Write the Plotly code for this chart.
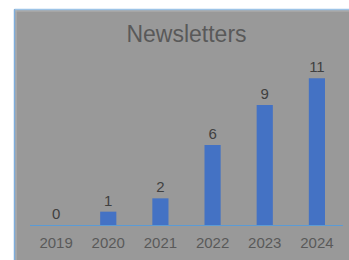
import plotly.graph_objects as go

years = ["2019", "2020", "2021", "2022", "2023", "2024"]
counts = [0, 1, 2, 6, 9, 11]
title_text = "Newsletters"

W, H = 349, 260
ML, MR, MT, MB = 30, 6, 65, 35
PW = W - ML - MR
PH = H - MT - MB

def px_x(p):
    return (p - ML) / PW

def px_y(p):
    return (H - MB - p) / PH

fig = go.Figure(go.Bar(
    x=years, y=counts,
    marker=dict(color="#4472C4", line=dict(width=0)),
    text=[str(c) for c in counts], textposition="outside",
    textfont=dict(family="Liberation Sans, Arial", size=15, color="#404040"),
    cliponaxis=False,
))

shapes = [
    dict(type="rect", xref="paper", yref="paper", x0=px_x(-5), x1=px_x(W + 5), y0=px_y(9), y1=px_y(-5),
         fillcolor="white", line=dict(width=0), layer="below"),
    dict(type="rect", xref="paper", yref="paper", x0=px_x(-5), x1=px_x(14), y0=px_y(H + 5), y1=px_y(-5),
         fillcolor="white", line=dict(width=0), layer="below"),
    dict(type="line", xref="paper", yref="paper", x0=px_x(15), x1=px_x(W + 5), y0=px_y(11), y1=px_y(11),
         line=dict(color="#b3b3b3", width=1), layer="below"),
    dict(type="line", xref="paper", yref="paper", x0=px_x(16), x1=px_x(16), y0=px_y(10), y1=px_y(H + 5),
         line=dict(color="#b3b3b3", width=1), layer="below"),
    dict(type="line", xref="paper", yref="paper", x0=px_x(14.5), x1=px_x(W + 5), y0=px_y(9.5), y1=px_y(9.5),
         line=dict(color="#9DC3E6", width=1.5), layer="below"),
    dict(type="line", xref="paper", yref="paper", x0=px_x(14.5), x1=px_x(14.5), y0=px_y(9.5), y1=px_y(H + 5),
         line=dict(color="#7FAEDC", width=1.5), layer="below"),
]

fig.update_layout(
    width=W, height=H,
    margin=dict(l=ML, r=MR, t=MT, b=MB, pad=0),
    paper_bgcolor="#999999", plot_bgcolor="#999999",
    bargap=0.69,
    showlegend=False,
    title=dict(text=title_text, x=0.5, xref="paper", xanchor="center",
               y=1 - 34 / H, yanchor="middle",
               font=dict(family="Liberation Sans, Arial", size=23, color="#595959")),
    xaxis=dict(showgrid=False, showline=True, linecolor="#5B9BD5", linewidth=1,
               ticks="outside", ticklen=4, tickcolor="rgba(0,0,0,0)",
               tickfont=dict(family="Liberation Sans, Arial", size=15, color="#595959"),
               zeroline=False, fixedrange=True),
    yaxis=dict(visible=False, range=[0, 12], showgrid=False, zeroline=False, fixedrange=True),
    shapes=shapes,
)

fig.write_html("out.html", config={"displayModeBar": False},
               post_script="document.body.style.margin='0';document.body.style.padding='0';")
